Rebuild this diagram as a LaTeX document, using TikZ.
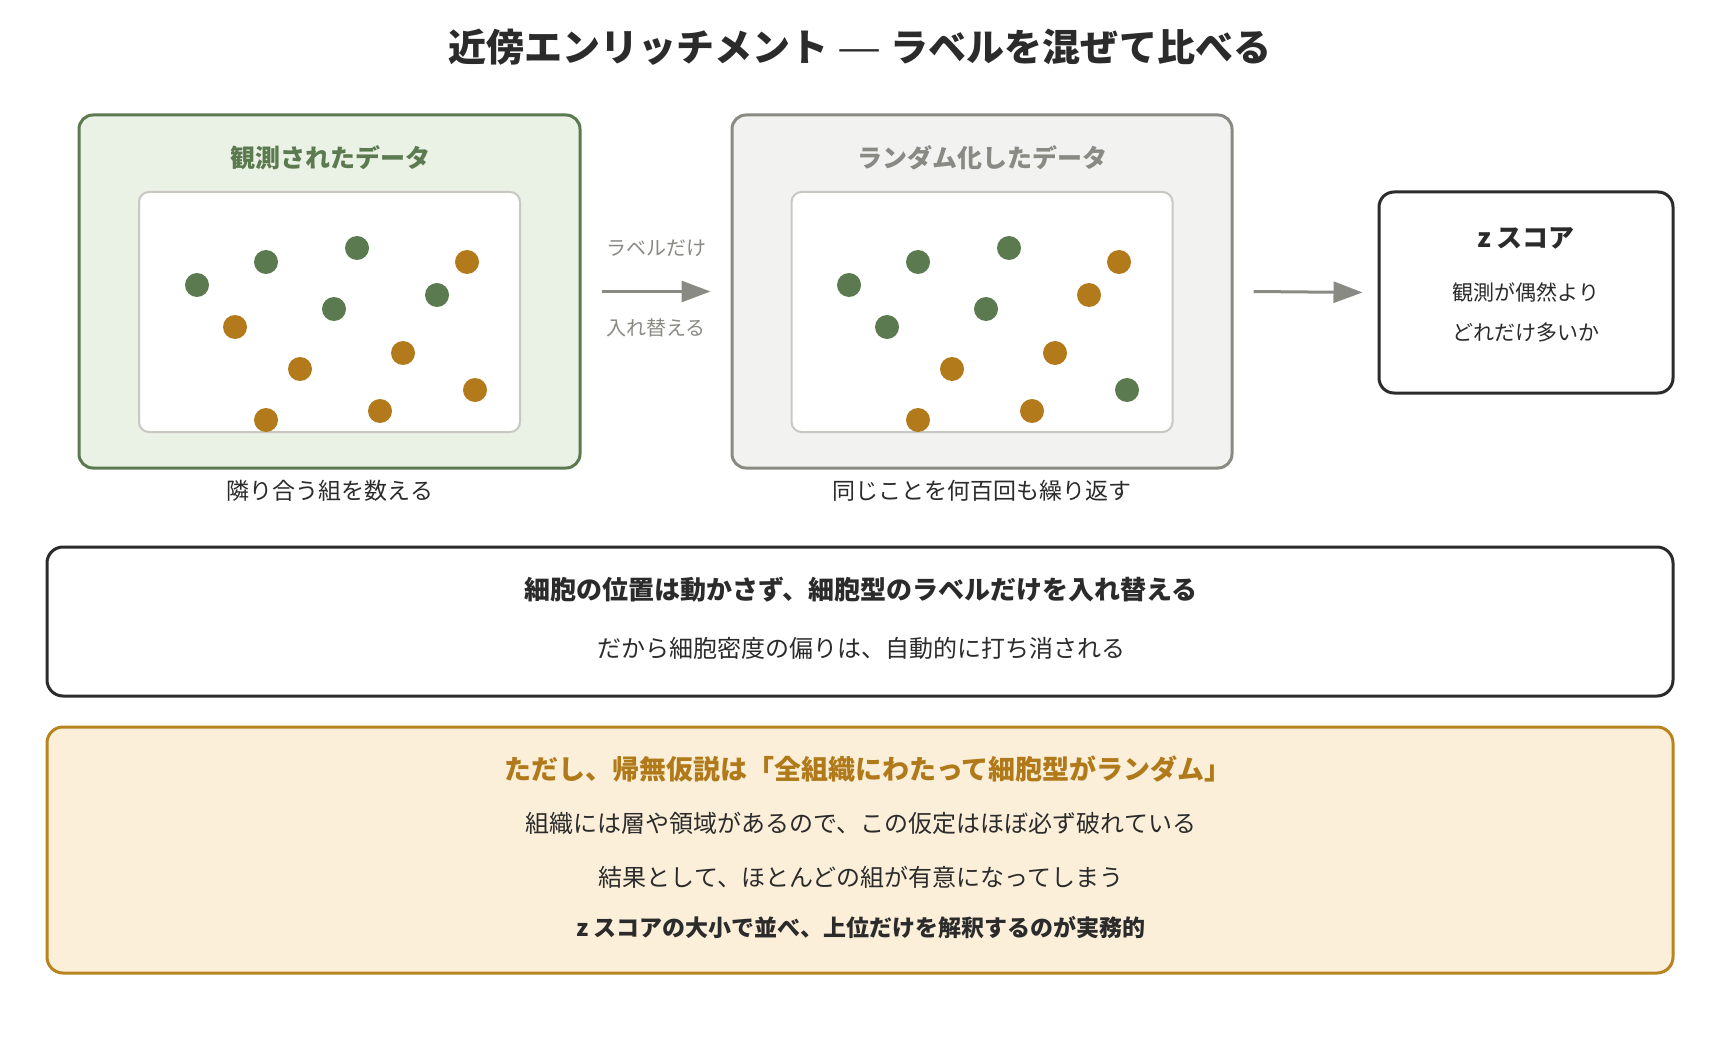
\documentclass[tikz,border=0pt]{standalone}
\usepackage{fontspec}
\setmainfont{Noto Sans CJK JP}
\usetikzlibrary{arrows.meta}
\definecolor{ink}{HTML}{2B2B2B}
\definecolor{grn}{HTML}{5C7A50}
\definecolor{grnfill}{HTML}{EAF1E5}
\definecolor{gry}{HTML}{8A8A84}
\definecolor{gryfill}{HTML}{F2F2F0}
\definecolor{innerline}{HTML}{C8C8C2}
\definecolor{org}{HTML}{B07A1A}
\definecolor{dotorg}{HTML}{B37A1B}
\definecolor{orgline}{HTML}{B8841F}
\definecolor{orgfill}{HTML}{FCEFD9}
\begin{document}
\begin{tikzpicture}[x=1pt,y=-1pt,
  txt/.style={inner sep=0pt, anchor=base, text=ink},
  fs/.style={font=\fontsize{#1}{#1}\selectfont, yshift={-0.38*#1pt}},
  fsb/.style={font=\fontsize{#1}{#1}\selectfont\bfseries, yshift={-0.38*#1pt}},
  panel/.style={draw, rounded corners=14pt, line width=3pt, inner sep=0pt},
  plot/.style={draw=innerline, fill=white, rounded corners=10pt, line width=2pt, inner sep=0pt, minimum width=381pt, minimum height=240pt},
  arr/.style={draw=gry, line width=3pt, -{Triangle[length=29pt,width=21pt]}},
  gdot/.style={fill=grn},
  odot/.style={fill=dotorg}
]
\useasboundingbox (0,0) rectangle (1720,1040);
\fill[white] (0,0) rectangle (1720,1040);

% title
\node[txt, fsb=38] (title) at (860,47) {近傍エンリッチメント {\mdseries\scalebox{1.3}[1]{—}} ラベルを混ぜて比べる};

% observed panel
\node[panel, draw=grn, fill=grnfill, minimum width=501pt, minimum height=353pt] (obs) at (329.5,291.5) {};
\node[txt, fsb=25, text=grn] (obst) at (330,158) {観測されたデータ};
\node[plot] (obsplot) at (329.5,312) {};
\node[txt, fs=23] (obsc) at (330,491) {隣り合う組を数える};

% randomized panel
\node[panel, draw=gry, fill=gryfill, minimum width=500pt, minimum height=353pt] (rnd) at (982,291.5) {};
\node[txt, fsb=25, text=gry] (rndt) at (982,158) {ランダム化したデータ};
\node[plot] (rndplot) at (982,312) {};
\node[txt, fs=23] (rndc) at (982,491) {同じことを何百回も繰り返す};

% dots observed
\foreach \x/\y in {197/285, 266/262, 357/248, 334/309, 437/295}
  \fill[gdot] (\x,\y) circle (12pt);
\foreach \x/\y in {467/262, 235/327, 300/369, 403/353, 475/390, 266/420, 380/411}
  \fill[odot] (\x,\y) circle (12pt);

% dots randomized
\foreach \x/\y in {849/285, 918/262, 1009/248, 986/309, 887/327, 1127/390}
  \fill[gdot] (\x,\y) circle (12pt);
\foreach \x/\y in {1089/295, 1119/262, 952/369, 1055/353, 918/420, 1032/411}
  \fill[odot] (\x,\y) circle (12pt);

% z score box
\node[panel, draw=ink, fill=white, rounded corners=15pt, minimum width=294pt, minimum height=201pt] (zbox) at (1526,292.5) {};
\node[txt, fsb=26] (zt) at (1526,238) {z スコア};
\node[txt, fs=21] (z1) at (1526,293) {観測が偶然より};
\node[txt, fs=21] (z2) at (1526,333) {どれだけ多いか};

% arrows
\draw[arr] ([xshift=20pt]obs.east) -- ([xshift=-20pt]rnd.west);
\node[txt, fs=20, text=gry] (a1) at (656,248) {ラベルだけ};
\node[txt, fs=20, text=gry] (a2) at (656,328) {入れ替える};
\draw[arr] ([xshift=20pt]rnd.east) -- ([xshift=-15pt]zbox.west);

% note box
\node[panel, draw=ink, fill=white, rounded corners=16pt, minimum width=1626pt, minimum height=149pt] (note) at (860,621.5) {};
\node[txt, fsb=26] (n1) at (861,590) {細胞の位置は動かさず、細胞型のラベルだけを入れ替える};
\node[txt, fs=24] (n2) at (861,648) {だから細胞密度の偏りは、自動的に打ち消される};

% caveat box
\node[panel, draw=orgline, fill=orgfill, rounded corners=16pt, minimum width=1626pt, minimum height=246pt] (cav) at (860,850) {};
\node[txt, fsb=27, text=org] (c1) at (868,769) {ただし、帰無仮説は「全組織にわたって細胞型がランダム」};
\node[txt, fs=24] (c2) at (861,823) {組織には層や領域があるので、この仮定はほぼ必ず破れている};
\node[txt, fs=24] (c3) at (861,877) {結果として、ほとんどの組が有意になってしまう};
\node[txt, fsb=23] (c4) at (861,928) {z スコアの大小で並べ、上位だけを解釈するのが実務的};
\end{tikzpicture}
\end{document}
